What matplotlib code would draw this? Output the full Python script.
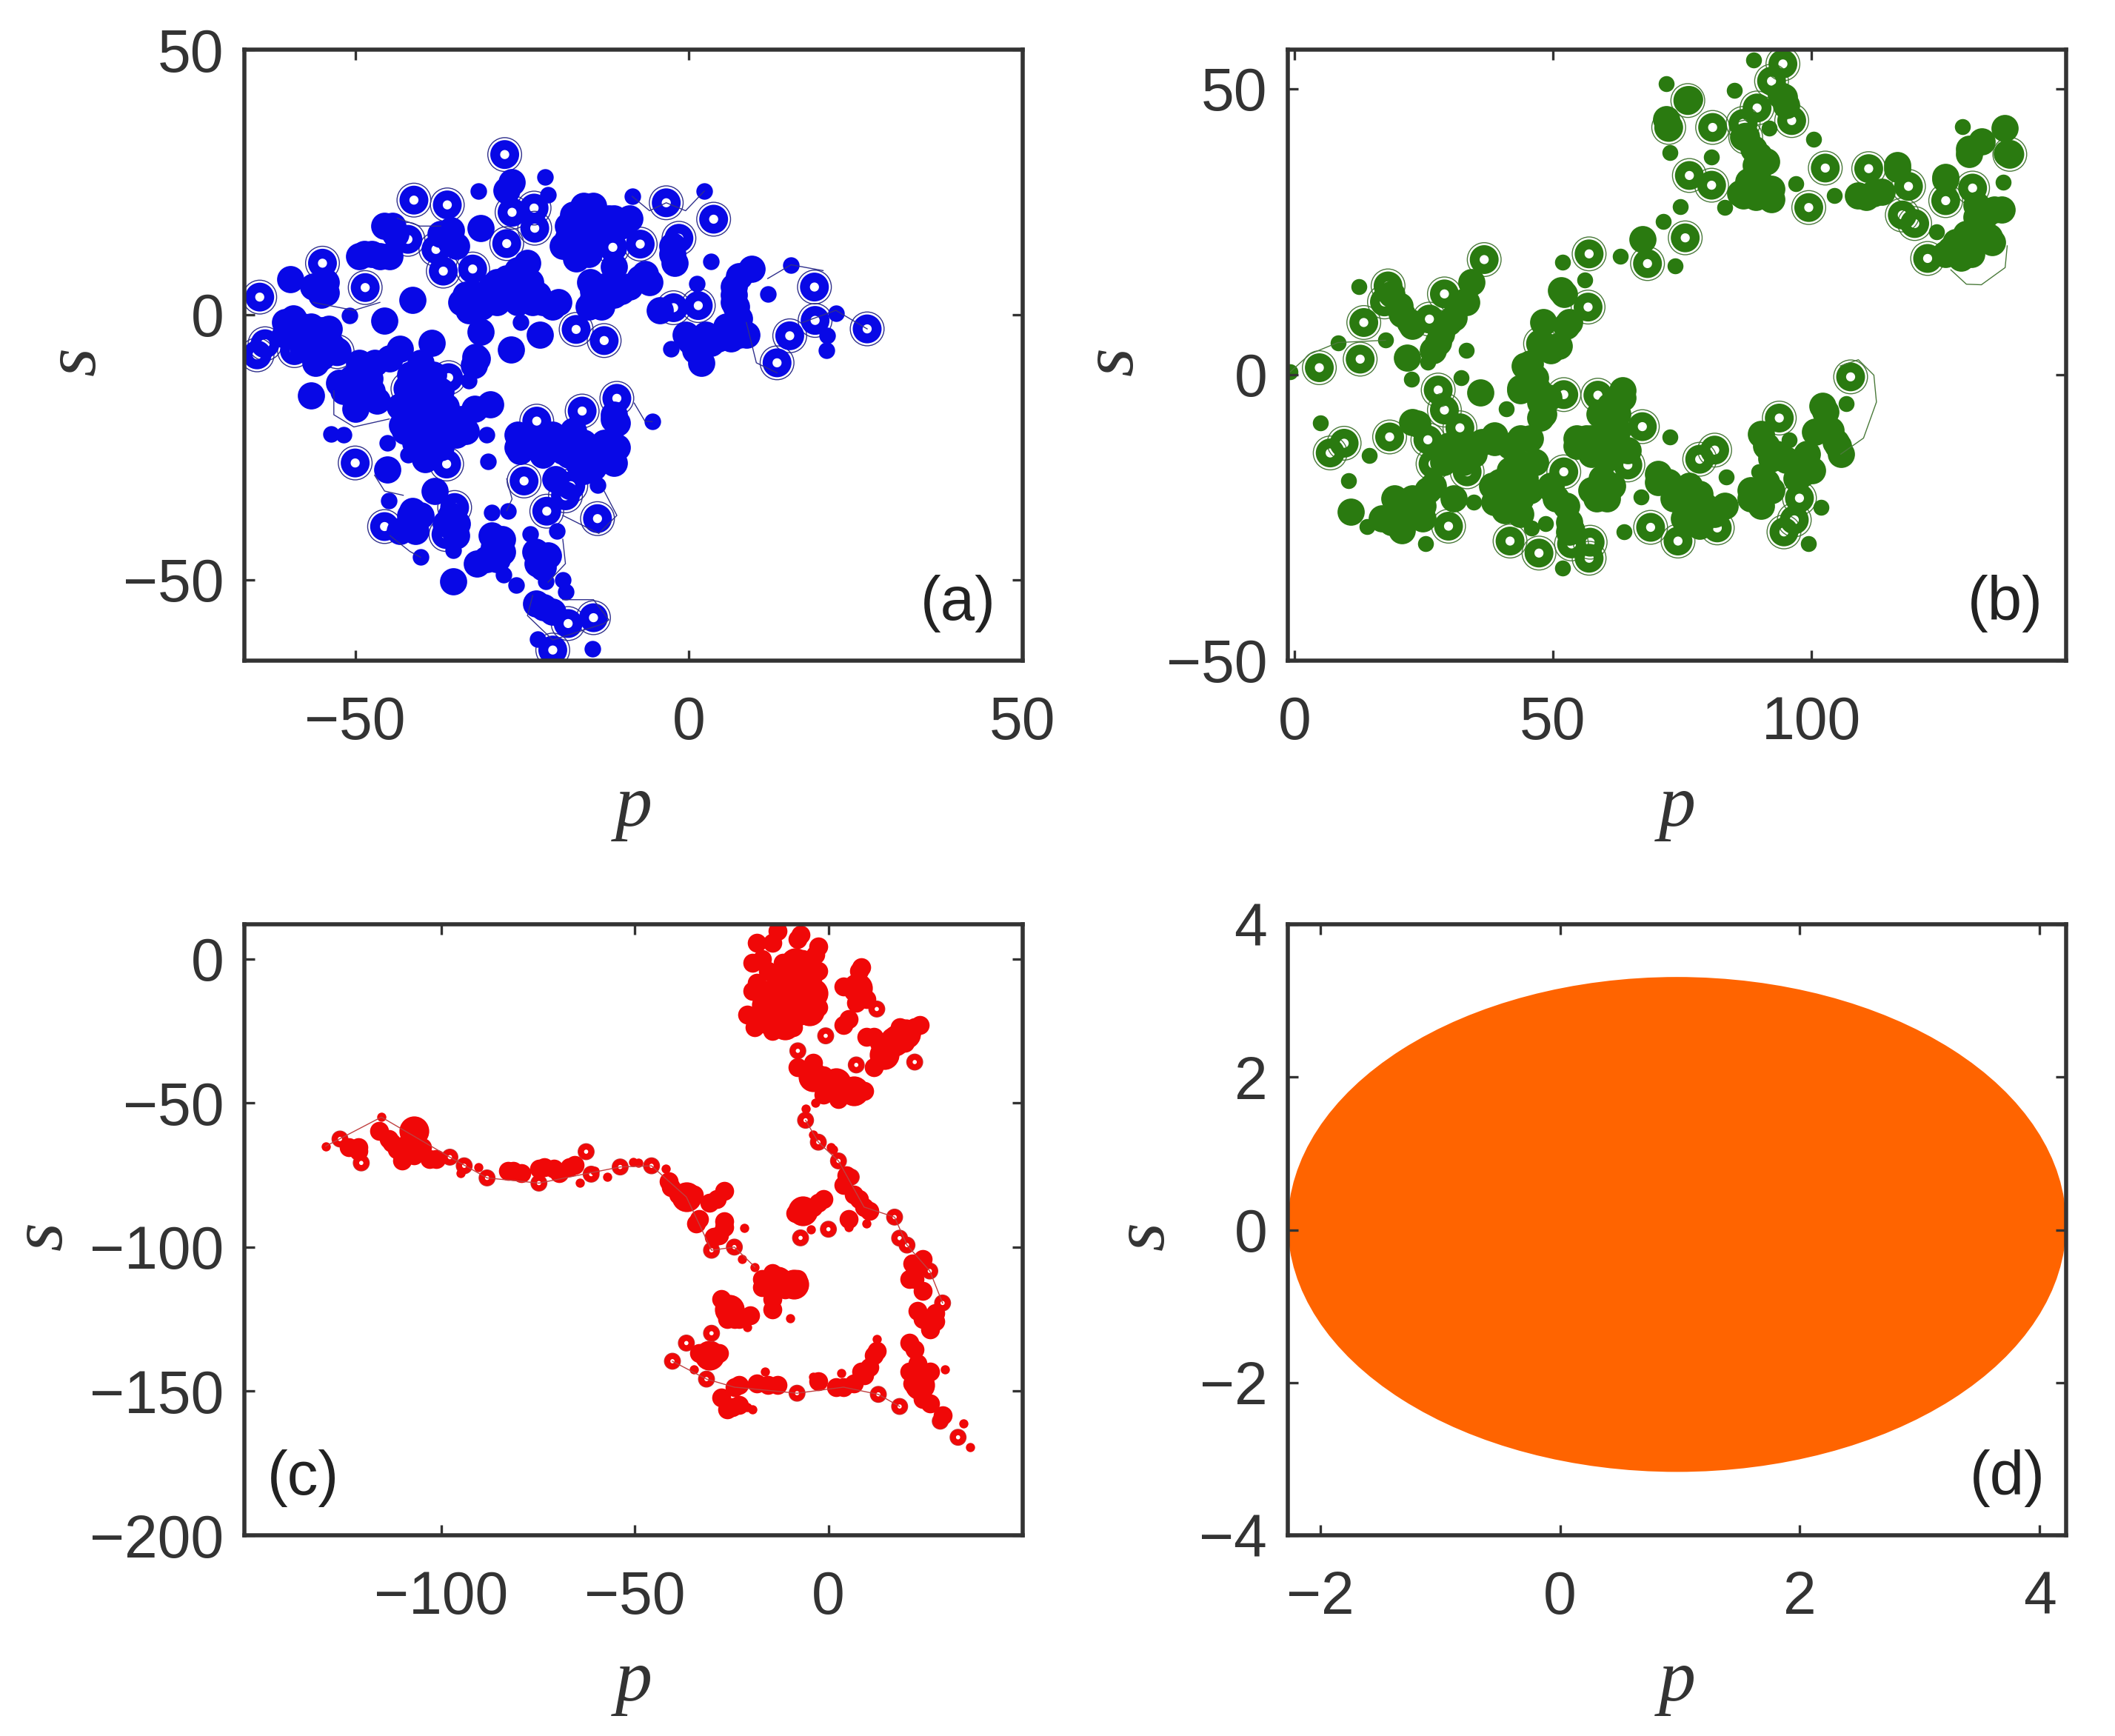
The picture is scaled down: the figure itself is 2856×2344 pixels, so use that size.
import numpy as np
import matplotlib
matplotlib.use('Agg')
import matplotlib.pyplot as plt
from matplotlib.patches import Ellipse

plt.rc('font', family='Liberation Sans', size=29)
plt.rc('axes', linewidth=2.0, edgecolor='#333333')

nan = np.nan

# panel (a)
a_ring_p = [-27.6,-41.2,-36.2,3.7,-3.4,-64.3,-54.9,-48.5,-36.8,-32.4,-37.9,-42.1,-27.3,-23.1,-26.5,-23.2,-11.4,-7.3,-1.5,-2.3,1.4,18.8,18.9,26.7,15.1,13.2,-12.7,-16.9,-59.1,-64.7,-63.5,-52.7,-36.0,-42.1,-10.8,-16.0,-22.8,-50.0,-36.3,-24.7,-17.7,-18.5,-21.3,-13.7,-35.1,-45.6,-36.4,-20.4,-18.1,-14.3]
a_ring_s = [30.2,21.6,20.7,18.0,21.1,3.3,9.7,5.1,8.2,8.6,12.3,14.2,13.4,16.3,19.3,20.1,12.7,13.3,14.4,1.3,1.7,5.2,-1.1,-2.7,-4.0,-9.1,-4.9,-2.8,-6.8,-7.6,-5.5,-7.0,-11.9,-14.0,-15.8,-18.2,-20.1,-28.0,-28.2,-31.4,-32.3,-34.2,-37.1,-38.5,-36.4,-40.0,-41.5,-63.3,-58.3,-57.2]
a_big_p = [-45.6,-22.3,-26.7,-31.2,-31.2,-56.6,-45.2,-38.1,1.9,-32,-34.1,-31.8,-29.5,-27.3,-25.7,-24.2,-28,-25,-22.7,-20.4,-31.1,-23.4,-25.7,-28.8,-17.3,-14.3,-11.2,-15.8,-12.7,-18.1,-10.2,-16.6,-14.3,-16.9,-17.3,-15,-11.2,-14.3,-13.1,-10.1,-7.4,-8.9,-14.8,-2.5,-2.5,9.4,7.5,6.7,6.7,7.5,7.5,4.4,1,5.6,0.2,-60.5,-57.8,-55.1,-56.3,-55.1,-55.9,-54.4,-54.4,-48.6,-46.3,-44.4,-59.7,-41.4,-35.6,-48.2,-47.9,-50.2,-51.7,-50,-46.7,-43.3,-38.5,-40.2,-41,-38.7,-38.7,-41.8,-35.6,-38.7,-34.1,-38.7,-43,-32.1,-37.2,-29.8,-25.7,-25.3,-21.1,-18,-18,-14.3,-11.6,-14.3,-15.8,-11.2,-20,-29.2,-30.3,-28,-22.4,-23,-40.2,-34.8,-41.4,-43.3,-21.8,-22.9,-35.3,
            -33.4,-30.3,-28.8,-26.5,-23.8,-21.9,-19.6,-33,-43.3,-42.5,-40.2,-36.4,-34.9,-33.4,-37.2,-41,-40.2,-41.8,-38.3,-37.2,-39.5,-59.3,-56.6,-54,-56.3,-53.6,-57.8,-60.5,-49.4,-47.1,-50.5,-47.5,-52.4,-44.8,6.7,7.1,7.5,6.3,3.3,2.5,1,-0.5,8.6,-25.7,-22.7,-20.4,-18.9,-16.6,-12.7,-11.2,-15.8,-21.9,-17.3,-10.8,-29.5,-28,-31.8,-28.8,-22.7,-21.1,-21.9,-20.4,-41.8,-36.4,-34.9,-41,-35.6,-11.2,-10.8,-56.3,-55.1,-31.8,-32.2,-45.6,-44,-35.6,-34.9,-37.2,-27.3,-26.5,-49.4,-47.5,-44.8,-18.1,-18.9,-15.8,-12,-8.9,-15.8,-14.3,-2.1,-4.4,-14.3,-15,-12.7,-11.2,-6.6,-5.9]
a_big_s = [-1.1,-3.8,-6.6,-3.2,16.3,-15.3,-29.2,-33.3,-9.1,-8,2.3,3.8,5.3,6.8,8.3,9.8,3.8,4.5,3.8,1.5,1.5,2.3,2.3,2.3,18.9,18.9,18.2,16.7,16.7,16.7,16.7,13.6,15.2,10.6,12.1,11.4,9.1,4.5,1.5,4.5,6.8,5.3,6.1,11.4,12.9,8.7,7.2,5.3,2.3,-0.8,-3.8,-4.5,-5.3,-2.3,-4.9,-1.5,-2.3,-3,-4.9,-8,-9.1,6.1,4.2,11.4,11,16.7,6.7,2.7,13.6,-9.8,-12.1,-14.4,-14.4,-17.8,-16.3,-6.4,-5.3,-11.4,-14.4,-15.9,-19.7,-21.2,-21.2,-23.5,-19.7,-25.8,-20.8,-17.8,-18.2,-17,-22.7,-25.8,-25,-23.5,-26.5,-25.8,-26.5,-28.8,-24.2,-19.7,-31.1,-43.9,-46.2,-42.4,-46.2,-44.7,-37.9,-39.4,-37.1,-40.9,-55.3,-54.5,-50.4,
            3.8,3.8,6.1,5.3,6.1,2.3,2.3,0.8,-17.4,-22,-17.4,-17.4,-22.7,-22,-25,-24.2,-9.1,-11.4,-11.4,-14.4,-27.3,-0.8,-2.3,-2.7,-6.8,-5.7,-6.4,-3.8,-9.1,-9.1,-12.1,-14.4,-12.9,-8.3,3.8,1.5,-2.3,-4.5,-5.3,-3.8,-6.8,-3.8,-3.8,-25,-24.2,-22.7,-25.8,-28,-24.2,-28,-29.5,-26.5,-22,-25,-41.7,-44.7,-47,-46.2,-47,-45.5,-47.7,-56.1,-37.9,-39.4,-41.7,-40.9,-37.9,-18.9,-20.5,5.3,3.8,-8.3,-9.5,16.7,15.2,15.9,12.9,15.2,23.5,25,11,11.4,11,14.4,12.9,12.1,18.2,18.2,20.5,20.5,9.8,0.8,3,1.5,5.3,3.8,7.6,6.1]
a_small_p = [-31.5,-21.6,-27.3,-8.5,2.3,-21.1,3.3,15.3,1.2,11.8,22,20.7,20.6,-2.7,-5.5,-25.2,-50.9,-53.6,-51.7,-42.1,-45,-40.2,-35.3,-30.1,-29.6,-27.1,-23.8,-19.8,-25.9,-27.8,-21.5,-18.9,-18.5,-22.7,-14.5,-13.7,-20.4,-33,-45.2,-30.3]
a_small_s = [23.3,25.9,24.6,22.3,23.3,22.6,10,9.4,5.9,3.9,0.2,-3.9,-6.8,-6.4,-20.2,-1.4,-0.2,-22.6,-22.7,-26.5,-35.1,-45.8,-44.5,-27.7,-37.3,-37,-41.4,-40.8,-51.1,-49.1,-50.4,-50,-52.3,-61.2,-63.1,-32.2,-31.2,-12.5,-24.2,-22.7]
a_trace_p = [-8.5,-5.9,-3.4,-0.5,2.3,nan,8.6,10.1,13.2,nan,17,22,26.7,nan,20.1,15.3,11.8,nan,-53.2,-53.2,-50.2,-44.9,nan,-47.1,-45.6,-42.8,nan,-27.3,-26.5,-27.3,nan,-8.2,-6.6,-5.5,nan,-44.8,-41.8,-40.2,nan,-18.9,-18.5,-21.1,nan,-23.4,-24.2,-20.4,-12.7,-12,-14.3,-18.9,nan,-12.7,-10.8,-13.5,-18.9,nan,-43.7,-40.3,-37.2,nan,-56.3,-50.2,-46.3]
a_trace_s = [22.3,19.6,21.1,19.6,23.3,nan,-1.5,-9.1,-11,nan,-1.5,0.8,-2.7,nan,8.3,9.4,6.8,nan,-14.4,-18.9,-21.2,-19.7,nan,-30.3,-33.3,-34.1,nan,-31,-34.8,-37,nan,-16.7,-20.1,-20.2,nan,-41.7,-44.7,-45.8,nan,-42.4,-47,-50.5,nan,-53,-56.8,-61.4,-58.3,-57.6,-53.8,-53.8,nan,-33.3,-37.9,-41.3,-37.9,nan,18.2,16.7,16.7,nan,2.3,0.8,2.3]

# panel (b)
b_ring_p = [36.7,18.1,17.4,13.4,4.8,12.7,26.1,29,27.8,29,32,25.8,6.9,9.6,18.4,26.8,33.4,29.8,41.7,47.3,57,57.2,53.6,52.1,58.7,67.3,64.5,52.1,68.9,74.2,81.8,93.8,94.7,97.7,96.7,107.6,57,68.3,75.6,56.8,47.6,99.5,102.7,111.1,118.8,117.6,120,122.5,131.2,126,138.4,76.4,80.7,86.8,87.3,89.5,92.3,94.5,96.2,76.1,72.4,80.9,78.4,81.3]
b_ring_s = [20.1,15.5,12.7,9.1,1.2,2.7,9.7,14.1,-2.7,-6.2,-9.3,-11.4,-13.7,-12,-10.9,-15.6,-17,-26.5,-29.1,-31.2,-32.1,-29.3,-29.6,-3.5,-3.6,-9.1,-15.8,-17,-26.7,-29.1,-26.8,-7.6,-27.5,-21.6,-25.4,-0.4,21.1,19.4,23.9,11.8,5.4,29.2,36.1,36,32.9,27.9,26.4,20.3,32.6,30.4,38.5,34.8,33.1,43.9,41.5,46.6,51.3,54.3,44.4,47.9,43.2,43.2,-14.8,-13.2]
b_big_p = [21.8,10.9,137.4,130.5,53.1,51.6,36,43.7,67.3,70.4,102.7,105.7,104.7,100.7,60,18.8,49.6,43.7,43.2,42.7,40.7,43.7,40.7,44.6,38.2,47.1,47.6,48.1,44.6,49.6,51.1,27.8,29.8,33.2,20.3,22.3,56.5,60.5,63.5,62.5,59.5,62.5,54.6,59,57.5,61.5,53.1,53.1,78.4,76.4,80.4,78.4,75.4,90.3,88.3,92.3,92.3,98.2,100.2,95.2,90.3,20.3,22.8,24.8,25.8,19.3,33.2,36.2,38.7,30.8,23.8,89.3,89.8,87.8,91.3,86.8,92.3,89.8,110.6,113.6,94.7,116.6,131,134,130,127,134.9,131.9,136.9,129,126,
            41.7,45.6,41.7,45.6,38.7,43.7,39.7,46.6,46.6,49.1,47.6,45.6,43.7,48.1,52.6,48.6,52.1,18.8,20.8,22.8,26.8,28.3,30.8,32.7,34.2,16.9,20.8,24.8,26.8,19.9,22.8,30.8,34.7,29.8,22.8,28.8,38.7,32.7,54.6,57.5,60.5,62.5,64.5,57.5,60.5,63.5,61,59.5,58.5,60.5,52.6,53.6,49.6,50.6,70.4,73.4,76.4,79.4,81.3,77.4,83.3,72.4,88.3,91.3,90.3,98.2,99.2,97.2,93.3,91.3,105.2,103.7,102.2,87.8,86.3,89.3,92.3,88.8,91.3,86.8,94.2,95.2,71.9,76.4,109.1,112.1,116.6,126,130.5,132.9,137.9,126,128,130,132.9,135.4,131,134.4,132]
b_big_s = [2.9,-24,43.1,38.5,9.2,14.7,-3.2,-2.3,23.6,-17.4,-6.5,-13.9,-11.8,-10,-19.5,-25.8,-19.8,-11.1,-15.3,-19.5,-20.9,-21.6,-23.7,-18.1,-19.5,-2.7,-4.8,-6.9,1.5,4.3,5,5.7,9.2,12.7,12,9.2,-11.1,-9,-4.1,-6.9,-12.5,-13.2,-11.1,-6.9,-20.2,-19.5,-25.8,-27.5,-20.9,-22.3,-23.7,-26.5,-25.1,-21.6,-21.6,-20.2,-14.6,-15.3,-16.7,-14.9,-10.4,-25.4,-24.4,-23,-20.2,-21.6,-13.2,-11.8,-10.7,-14.6,-8.6,36.6,33.8,32,31.7,31.3,32.4,38.3,31,32,48.5,35.9,24.6,28.2,22.5,21.8,23.2,27.5,28.9,20.4,34.1,
            -12.5,-11.1,-16.7,-20.2,-22.3,-24.4,-18.8,-15.3,-0.6,-4.1,-7.6,1.9,-2.7,9.2,8.5,5,14.1,14.1,10.6,8.5,4.3,7.1,9.9,12.7,16.2,-25.1,-27.2,-25.1,-19.5,-23,-21.6,-21.6,-13.9,-12.5,-8.3,-15.3,-11.8,-15.3,-12.5,-11.1,-11.1,-9.7,-13.2,-13.9,-14.6,-2.7,-5.5,-18.1,-21.6,-21.6,-23,-27.2,-19.5,-21.6,-18.8,-21.6,-19.5,-23,-24.4,-24.4,-23,-18.8,-20.2,-18.8,-23,-17.4,-13.9,-18.1,-13.9,-12.5,-12.5,-9.7,-5.5,33.8,31.7,31,30.6,39.4,37.3,41.5,48.8,47.1,44.6,48.1,31.3,31.7,36.6,34.5,39.4,40.8,38.7,21.1,23.2,24.6,26.8,28.9,21.1,24,29.6]
b_small_p = [-0.8,8.4,17.6,12.4,5,14.4,10.4,14.1,25.3,33.2,22.6,25.8,32.2,41,51.8,56.1,63,71.4,73.6,74.6,72.7,71.9,85.1,88.8,91.8,80.7,100.5,104.4,97,83.3,129.2,124.2,137.1,72.7,63.7,51.9,99.4,101.9,89.8,83.6,67,48.6,45.9,34.7,106.8,95.7]
b_small_s = [0.5,5.6,6,15.4,-8.5,-14.1,-18.6,-26.6,-29.5,4.2,-0.8,2.2,-0.6,-6,19.7,16.5,20.7,26.8,19,29.3,38.8,50.8,49.7,55,43.1,38,41.2,31.3,33.4,29.2,43.4,24.9,33.6,-10.9,-27.5,-33.8,-29.5,-23.2,-17,-17.9,-21.4,-26.1,-26.8,-22.3,-5.1,-11.4]
b_trace_p = [105.7,110.1,112.6,112.1,109.1,105.6,nan,127,130,132.9,137.5,137.9,nan,-0.8,3,8.4,17.6]
b_trace_s = [-13.9,-11.1,-4.8,-0.1,2.6,1.5,nan,18.3,15.8,15.7,18.7,22.5,nan,0.5,3.6,5.6,6]

# panel (c)
c_ring_p = [-126.2,-120.7,-97.8,-94.1,-88.2,-74.8,-62.6,-61.3,-53.8,-45.7,-30.2,-24.3,-2.6,2.6,5.9,-7.2,0,17.1,18.4,26.2,29.5,-36.7,-40.3,-31.5,-30.2,12.9,18.4,33.5,-0.7,12.5,22.3,-7.9,-5.9,-8.1,28.9,7.2,20.3]
c_ring_s = [-62.5,-70.8,-68.8,-71.8,-76,-77.8,-66.9,-74.7,-72.2,-71.8,-101.1,-100,-63.6,-70.1,-75.7,-96.8,-93.8,-89.6,-96.9,-108.3,-119.4,-133.3,-139.6,-145.8,-129.9,-151.1,-155.3,-166,-26.7,-17.4,-35.8,-31.9,-56,-150.7,-160.4,-36.8,-99.3]
c_solid_p = [-12.5,-7.9,-15.7,-11.2,-6.6,-5.2,-8.5,-9.8,-14,-16,-4,-5,-11,17.1,14.4,20,-107,-3.9,2,6.6,-13.1,-9,-25.6,-30.8,23.6,-6.6,-36.7,7.5]
c_solid_s = [-18.8,-18.1,-20.8,-22.9,-12.5,-5.6,-1.4,-13.2,-12,-16,-12,-18,-7,-28.5,-33.3,-26,-59.7,-41,-43,-45.8,-111.8,-113,-121.5,-137.5,-147.9,-87.5,-82.6,-10]
c_big_p = [-14.4,-7.9,-17.1,-6.6,-3.9,-18.4,-9.2,-13.1,-7.9,-3.9,-17.1,-11.8,-6.6,-14.4,-9.2,-17.1,-2.6,-19.7,7.9,6.6,7.2,5.2,22.3,17.1,19.7,13.1,14.4,11.8,-5.2,-1.3,1.3,6.6,-2.6,-108.9,-112.9,-105,-110.2,-103,-121.5,-81.4,-70.9,-66.9,-73.5,-28.9,-33.5,-26.9,-40.7,-29.5,6.6,9.2,4.6,-2.6,-17.1,-7.9,-14.4,-26.2,-24.3,22.3,22.3,27.6,24.3,22.3,23.6,23.6,24.3,21.7,-24.9,-24.3,-15.7,3.9,9.2,11.8,
            -18.4,-13.1,-7.2,-3.3,-19.7,-21,-19,-2.6,-2.6,-15.7,-11.8,8.5,8.5,3.9,9.8,3.9,23.6,9.8,18.4,21,11.8,-7.9,-3.9,1.3,2.6,9.2,-1.3,-124,-121.4,-116.1,-113.5,-110.2,-107,-101.4,-111.5,-82.7,-79.4,-74.8,-69.6,-65.6,-41.3,-38.7,-34.8,-30.8,-26.9,-34.1,-26.9,-28.2,-8.5,-3.9,-1.3,3.9,7.9,10.5,5.2,-17.1,-7.9,-14.4,-11.2,-14.4,-27.6,-26.2,-23,-20.3,21.7,24.3,21,24.3,23,27.6,26.2,21,23,26.2,21,26.2,29.5,-33.5,-28.2,-23,-26.2,-23,-27.6,-18.4,-13.1,2,6.6,10.5,12.5,-2.6,8.5]
c_big_s = [5.6,6.9,0,0,-4.2,-8.3,-5.6,-13.9,-11.1,-11.1,-19.4,-19.4,-18.1,-25,-23.6,-16.7,4.2,-1.4,-4.2,-9.7,-15.3,-20.8,-23.6,-26.4,-29.2,-29.2,-34.7,-27.1,-38.9,-40.3,-45.8,-45.8,-43.1,-63.9,-63.9,-65.3,-68.1,-69.4,-65.3,-73.6,-72.9,-72.2,-72.2,-83.3,-90.3,-93.1,-79.2,-96.5,-81.9,-86.1,-75,-84.7,-113.9,-112.5,-121.5,-120.8,-125,-106.9,-111.1,-125.7,-125,-135.4,-143.1,-148.6,-152.8,-147.2,-155.6,-148.6,-147.9,-148.6,-144.4,-137.5,
            5.6,9.7,8.3,1.4,-11.1,-19.4,-23.6,-4.2,-16.7,-4.2,-1.4,-2.8,-9.7,-9.7,-13.9,-22.9,-22.9,-27.1,-23.6,-27.1,-37.5,-37.5,-36.1,-41.7,-48.6,-45.8,-47.2,-65.3,-66.7,-59.7,-62.5,-70.1,-68.1,-69.4,-66,-73.6,-74.3,-72.9,-74.3,-71.5,-77.1,-81.9,-81.9,-84.7,-80.6,-91.7,-91,-95.8,-88.2,-86.1,-83.3,-78.5,-83.3,-87.5,-90.3,-111.1,-111.1,-109,-114.6,-118,-118,-125,-125,-123.6,-105.6,-104.2,-111.1,-115.3,-122.2,-122.9,-128.5,-133.3,-140.3,-143.1,-143.1,-154.2,-158.3,-136.8,-136.8,-147.9,-156.3,-154.9,-152.1,-147.2,-147.9,-148.6,-147.2,-141.7,-136.1,-146.5,-143.1]
c_small_p = [-129.9,-115.5,-90.5,-49.2,-42,-21.7,-22.3,-19,-9.8,-21,36.7,34.8,12.5,1.3,30.2,-34.8,-16.4,-3.9,-21,-19.7,3.3,-60.4,-64.3,-95.1,-57.1,-50.5,-4.6,9.8,5.2,-5.9,-3.3,-3.9,0.7,-21]
c_small_s = [-65,-54.9,-72.2,-70.8,-72.9,-93.3,-104.2,-106.9,-124.7,-127.8,-169.4,-161.1,-131.9,-66,-142.4,-142.4,-143.1,-145.1,-155.6,-156.3,-143.8,-73.6,-77.8,-74.3,-75.7,-70.4,-93.8,-91.9,-93.1,-52.1,-50,-61.1,-65.3,-19.4]
c_trace_p = [-129.9,-115.5,-97.8,-88.2,-74.8,-53.8,-45.7,-36.7,-30.2,-24.3,-19,nan,-5.9,-2.6,2.6,9.2,17.1,20.3,26.2,29.5,nan,-40.3,-31.5,-24.3,-8.1,3.9,12.9,18.4]
c_trace_s = [-65,-54.9,-68.8,-76,-77.8,-72.2,-71.8,-82.6,-101.1,-100,-106.9,nan,-56,-63.6,-70.1,-86.1,-89.6,-99.3,-108.3,-119.4,nan,-139.6,-145.8,-148.6,-150.7,-148.6,-151.1,-155.3]

# panel (d) filled orbit
d_center = (0.975, 0.07)
d_width = 6.49
d_height = 6.48


def orbit_panel(ax, ring_p, ring_s, big_p, big_s, small_p, small_s, trace_p, trace_s,
                color, edge, big, small, ring, ring_lw, loop):
    ax.plot(trace_p, trace_s, color=edge, linewidth=0.5)
    ax.scatter(ring_p, ring_s, s=loop, facecolors='none', edgecolors=edge, linewidths=0.5)
    ax.scatter(big_p, big_s, s=big, color=color, linewidths=0)
    ax.scatter(small_p, small_s, s=small, color=color, linewidths=0)
    ax.scatter(ring_p, ring_s, s=ring, facecolors='none', edgecolors=color, linewidths=ring_lw)


def style(ax, xlim, ylim, xticks, yticks, tag, tag_x, ylab_x):
    ax.set_xlim(xlim)
    ax.set_ylim(ylim)
    ax.set_xticks(xticks)
    ax.set_yticks(yticks)
    ax.tick_params(direction='in', top=True, right=True, length=5, width=1.2,
                   colors='#333333', labelsize=29)
    ax.tick_params(axis='x', pad=17)
    ax.tick_params(axis='y', pad=10)
    ax.set_xlabel('p', family='Liberation Serif', style='italic', fontsize=36, color='#333333')
    ax.set_ylabel('s', family='Liberation Serif', style='italic', fontsize=36, color='#333333')
    ax.xaxis.set_label_coords(0.5, -0.187)
    ax.yaxis.set_label_coords(ylab_x, 0.49)
    ax.text(tag_x, 0.093, tag, transform=ax.transAxes, ha='center', va='center',
            fontsize=30, color='#222222')


W, H = 2856, 2344
fig = plt.figure(figsize=(W/200, H/200), dpi=200, facecolor='white')
ax_a = fig.add_axes([330/W, 1-892/H, 1051/W, 825/H])
ax_b = fig.add_axes([1739/W, 1-892/H, 1051/W, 825/H])
ax_c = fig.add_axes([330/W, 1-2073/H, 1051/W, 825/H])
ax_d = fig.add_axes([1739/W, 1-2073/H, 1051/W, 825/H])

orbit_panel(ax_a, a_ring_p, a_ring_s, a_big_p, a_big_s, a_small_p, a_small_s, a_trace_p, a_trace_s,
            '#0808e6', '#30308c', 175, 65, 85, 4.8, 270)
orbit_panel(ax_b, b_ring_p, b_ring_s, b_big_p, b_big_s, b_small_p, b_small_s, b_trace_p, b_trace_s,
            '#2a7a10', '#4a7a3a', 175, 60, 85, 4.8, 270)
ax_c.scatter(c_solid_p, c_solid_s, s=210, color='#f00808', linewidths=0)
orbit_panel(ax_c, c_ring_p, c_ring_s, c_big_p, c_big_s, c_small_p, c_small_s, c_trace_p, c_trace_s,
            '#f00808', '#c04040', 85, 20, 24, 2.8, 60)
ax_d.add_patch(Ellipse(d_center, d_width, d_height, facecolor='#ff6400', edgecolor='none'))

style(ax_a, (-66.6, 50), (-65.3, 50), [-50, 0, 50], [-50, 0, 50], '(a)', 0.917, -0.172)
style(ax_b, (-1.3, 149.3), (-50, 56.8), [0, 50, 100], [-50, 0, 50], '(b)', 0.922, -0.18)
style(ax_c, (-150.9, 50.2), (-200, 12), [-100, -50, 0], [-200, -150, -100, -50, 0], '(c)', 0.076, -0.215)
style(ax_d, (-2.27, 4.22), (-4, 4), [-2, 0, 2, 4], [-4, -2, 0, 2, 4], '(d)', 0.925, -0.14)

plt.savefig('out.png', dpi=200)
